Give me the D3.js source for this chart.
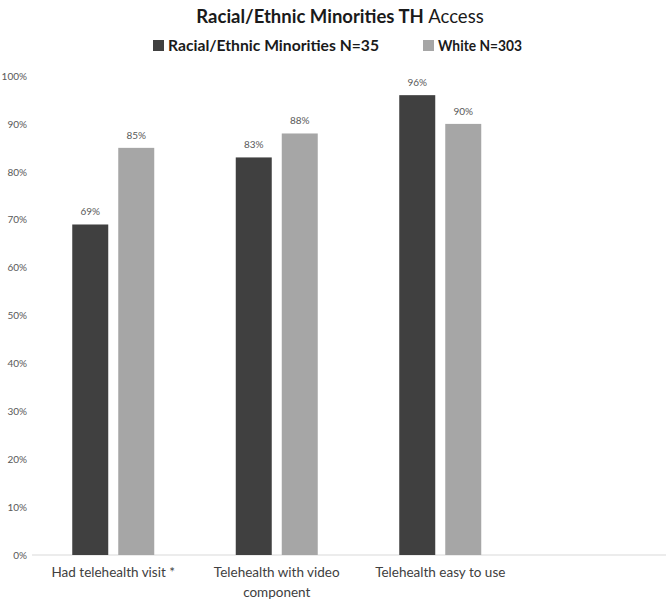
<!DOCTYPE html>
<html>
<head>
<meta charset="utf-8">
<script src="https://cdn.jsdelivr.net/npm/d3@7"></script>
<style>
  body { margin: 0; background: #fff; }
  text { font-family: Lato, "Open Sans", sans-serif; }
</style>
</head>
<body>
<div class="chart"></div>
<script>
// data
var categories = ["Had telehealth visit *", "Telehealth with video|component", "Telehealth easy to use"];
var seriesNames = ["Racial/Ethnic Minorities N=35", "White N=303"];
var minorities = [69, 83, 96];
var white = [85, 88, 90];
var yTicks = [0, 10, 20, 30, 40, 50, 60, 70, 80, 90, 100];

var colors = ["#404040", "#a6a6a6"];

var svgWidth = 666;
var svgHeight = 600;

var svg = d3.select(".chart")
  .append("svg")
  .attr("width", svgWidth)
  .attr("height", svgHeight);

var x0 = d3.scaleBand().domain(categories).range([31.5, 522]);
var x1 = d3.scaleBand().domain(seriesNames).range([40.75, 122.75]).paddingInner(10 / 46);
var y = d3.scaleLinear().domain([0, 100]).range([555, 76]);

// title
var title = svg.append("text")
  .attr("x", 340)
  .attr("y", 23)
  .attr("text-anchor", "middle")
  .style("font-size", "18.5px")
  .style("fill", "#1a1a1a");
title.append("tspan").style("font-weight", "bold").text("Racial/Ethnic Minorities TH ");
title.append("tspan").text("Access");

// legend
var legendX = [153, 423];
var legendLen = [211, 84];
seriesNames.forEach(function(name, i) {
  svg.append("rect")
    .attr("x", legendX[i]).attr("y", 40)
    .attr("width", 11).attr("height", 11)
    .attr("fill", colors[i]);
  svg.append("text")
    .attr("x", legendX[i] + 15).attr("y", 51)
    .attr("textLength", legendLen[i])
    .attr("lengthAdjust", "spacingAndGlyphs")
    .style("font-size", "15.5px")
    .style("font-weight", "bold")
    .style("fill", "#1a1a1a")
    .text(name);
});

// y axis labels
var yAxis = d3.axisLeft(y)
  .tickValues(yTicks)
  .tickSize(0)
  .tickPadding(0)
  .tickFormat(function(d) { return d + "%"; });

svg.append("g")
  .attr("transform", "translate(27,0)")
  .call(yAxis)
  .call(function(g) { g.select(".domain").remove(); })
  .selectAll("text")
  .style("font-family", "Lato, sans-serif")
  .style("font-size", "10px")
  .style("fill", "#595959");

// baseline
svg.append("line")
  .attr("x1", 32).attr("x2", 666)
  .attr("y1", y(0)).attr("y2", y(0))
  .attr("stroke", "#d9d9d9")
  .attr("stroke-width", 1);

// bars
var rows = categories.map(function(c, i) {
  return { cat: c, values: [minorities[i], white[i]] };
});

var groups = svg.selectAll(".group")
  .data(rows)
  .enter().append("g")
  .attr("class", "group")
  .attr("transform", function(d) { return "translate(" + x0(d.cat) + ",0)"; });

groups.selectAll("rect")
  .data(function(d) {
    return d.values.map(function(v, i) { return { name: seriesNames[i], value: v, i: i }; });
  })
  .enter().append("rect")
  .attr("x", function(d) { return x1(d.name); })
  .attr("width", x1.bandwidth())
  .attr("y", function(d) { return y(d.value); })
  .attr("height", function(d) { return y(0) - y(d.value); })
  .attr("fill", function(d) { return colors[d.i]; });

groups.selectAll(".val")
  .data(function(d) {
    return d.values.map(function(v, i) { return { name: seriesNames[i], value: v }; });
  })
  .enter().append("text")
  .attr("class", "val")
  .attr("x", function(d) { return x1(d.name) + x1.bandwidth() / 2; })
  .attr("y", function(d) { return y(d.value) - 9; })
  .attr("text-anchor", "middle")
  .style("font-size", "10px")
  .style("fill", "#595959")
  .text(function(d) { return d.value + "%"; });

// category labels
groups.append("text")
  .attr("x", x0.bandwidth() / 2)
  .attr("y", 577)
  .attr("text-anchor", "middle")
  .style("font-size", "13.5px")
  .style("fill", "#404040")
  .selectAll("tspan")
  .data(function(d) { return d.cat.split("|"); })
  .enter().append("tspan")
  .attr("x", x0.bandwidth() / 2)
  .attr("dy", function(d, i) { return i === 0 ? 0 : 20; })
  .text(function(d) { return d; });
</script>
</body>
</html>
